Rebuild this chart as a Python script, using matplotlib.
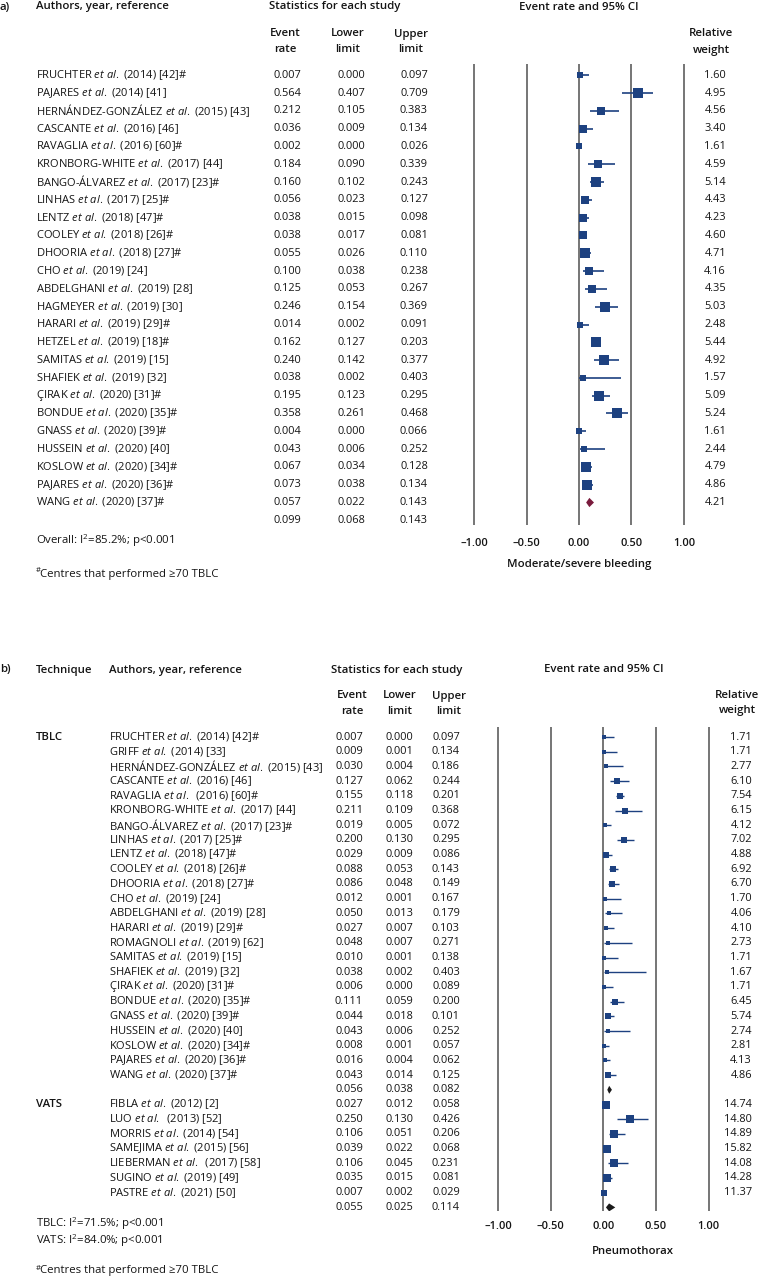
import matplotlib
matplotlib.use("Agg")
import matplotlib.pyplot as plt
import matplotlib.transforms as mtransforms
from matplotlib.patches import Polygon

FONT = 'Open Sans'
plt.rcParams['font.family'] = [FONT, 'DejaVu Sans']
plt.rcParams['mathtext.fontset'] = 'custom'
plt.rcParams['mathtext.rm'] = FONT
plt.rcParams['mathtext.it'] = FONT + ':italic'
plt.rcParams['mathtext.default'] = 'regular'

# ---- panel a: moderate/severe bleeding ----
authors_a = ["FRUCHTER", "PAJARES", "HERNÁNDEZ-GONZÁLEZ", "CASCANTE", "RAVAGLIA",
             "KRONBORG-WHITE", "BANGO-ÁLVAREZ", "LINHAS", "LENTZ", "COOLEY",
             "DHOORIA", "CHO", "ABDELGHANI", "HAGMEYER", "HARARI", "HETZEL",
             "SAMITAS", "SHAFIEK", "ÇIRAK", "BONDUE", "GNASS", "HUSSEIN",
             "KOSLOW", "PAJARES", "WANG"]
refs_a = ["(2014) [42]#", "(2014) [41]", "(2015) [43]", "(2016) [46]", "(2016) [60]#",
          "(2017) [44]", "(2017) [23]#", "(2017) [25]#", "(2018) [47]#", "(2018) [26]#",
          "(2018) [27]#", "(2019) [24]", "(2019) [28]", "(2019) [30]", "(2019) [29]#",
          "(2019) [18]#", "(2019) [15]", "(2019) [32]", "(2020) [31]#", "(2020) [35]#",
          "(2020) [39]#", "(2020) [40]", "(2020) [34]#", "(2020) [36]#", "(2020) [37]#"]
rate_a = [0.007, 0.564, 0.212, 0.036, 0.002, 0.184, 0.160, 0.056, 0.038, 0.038,
          0.055, 0.100, 0.125, 0.246, 0.014, 0.162, 0.240, 0.038, 0.195, 0.358,
          0.004, 0.043, 0.067, 0.073, 0.057]
lower_a = [0.000, 0.407, 0.105, 0.009, 0.000, 0.090, 0.102, 0.023, 0.015, 0.017,
           0.026, 0.038, 0.053, 0.154, 0.002, 0.127, 0.142, 0.002, 0.123, 0.261,
           0.000, 0.006, 0.034, 0.038, 0.022]
upper_a = [0.097, 0.709, 0.383, 0.134, 0.026, 0.339, 0.243, 0.127, 0.098, 0.081,
           0.110, 0.238, 0.267, 0.369, 0.091, 0.203, 0.377, 0.403, 0.295, 0.468,
           0.066, 0.252, 0.128, 0.134, 0.143]
weight_a = [1.60, 4.95, 4.56, 3.40, 1.61, 4.59, 5.14, 4.43, 4.23, 4.60, 4.71, 4.16,
            4.35, 5.03, 2.48, 5.44, 4.92, 1.57, 5.09, 5.24, 1.61, 2.44, 4.79, 4.86, 4.21]
overall_a = [0.099, 0.068, 0.143]

# ---- panel b: pneumothorax ----
authors_tblc = ["FRUCHTER", "GRIFF", "HERNÁNDEZ-GONZÁLEZ", "CASCANTE", "RAVAGLIA",
                "KRONBORG-WHITE", "BANGO-ÁLVAREZ", "LINHAS", "LENTZ", "COOLEY",
                "DHOORIA", "CHO", "ABDELGHANI", "HARARI", "ROMAGNOLI", "SAMITAS",
                "SHAFIEK", "ÇIRAK", "BONDUE", "GNASS", "HUSSEIN", "KOSLOW",
                "PAJARES", "WANG"]
refs_tblc = ["(2014) [42]#", "(2014) [33]", "(2015) [43]", "(2016) [46]", " (2016) [60]#",
             "(2017) [44]", "(2017) [23]#", "(2017) [25]#", "(2018) [47]#", "(2018) [26]#",
             "(2018) [27]#", "(2019) [24]", "(2019) [28]", "(2019) [29]#", "(2019) [62]",
             "(2019) [15]", "(2019) [32]", "(2020) [31]#", "(2020) [35]#", "(2020) [39]#",
             "(2020) [40]", "(2020) [34]#", "(2020) [36]#", "(2020) [37]#"]
rate_tblc = [0.007, 0.009, 0.030, 0.127, 0.155, 0.211, 0.019, 0.200, 0.029, 0.088,
             0.086, 0.012, 0.050, 0.027, 0.048, 0.010, 0.038, 0.006, 0.111, 0.044,
             0.043, 0.008, 0.016, 0.043]
lower_tblc = [0.000, 0.001, 0.004, 0.062, 0.118, 0.109, 0.005, 0.130, 0.009, 0.053,
              0.048, 0.001, 0.013, 0.007, 0.007, 0.001, 0.002, 0.000, 0.059, 0.018,
              0.006, 0.001, 0.004, 0.014]
upper_tblc = [0.097, 0.134, 0.186, 0.244, 0.201, 0.368, 0.072, 0.295, 0.086, 0.143,
              0.149, 0.167, 0.179, 0.103, 0.271, 0.138, 0.403, 0.089, 0.200, 0.101,
              0.252, 0.057, 0.062, 0.125]
weight_tblc = [1.71, 1.71, 2.77, 6.10, 7.54, 6.15, 4.12, 7.02, 4.88, 6.92, 6.70, 1.70,
               4.06, 4.10, 2.73, 1.71, 1.67, 1.71, 6.45, 5.74, 2.74, 2.81, 4.13, 4.86]
overall_tblc = [0.056, 0.038, 0.082]

authors_vats = ["FIBLA", "LUO", "MORRIS", "SAMEJIMA", "LIEBERMAN", "SUGINO", "PASTRE"]
refs_vats = ["(2012) [2]", " (2013) [52]", "(2014) [54]", "(2015) [56]", " (2017) [58]",
             "(2019) [49]", "(2021) [50]"]
rate_vats = [0.027, 0.250, 0.106, 0.039, 0.106, 0.035, 0.007]
lower_vats = [0.012, 0.130, 0.051, 0.022, 0.045, 0.015, 0.002]
upper_vats = [0.058, 0.426, 0.206, 0.068, 0.231, 0.081, 0.029]
weight_vats = [14.74, 14.80, 14.89, 15.82, 14.08, 14.28, 11.37]
overall_vats = [0.055, 0.025, 0.114]

ticks = [-1.0, -0.5, 0.0, 0.5, 1.0]
tick_labels = ["–1.00", "–0.50", "0.00", "0.50", "1.00"]

W, H = 759, 1280
TXT = '#141414'
SQ = '#1d4180'
FSA = 8.05  # study names
FS = 8.2    # notes
FSN = 7.9   # numbers
FSH = 8.2   # headers

fig = plt.figure(figsize=(W / 100, H / 100), dpi=100)


def fx(px):
    return px / W


def fy(py):
    return 1 - py / H


def ftext(px, py, s, **kw):
    kw.setdefault('fontsize', FS)
    kw.setdefault('color', TXT)
    kw.setdefault('va', 'center')
    fig.text(fx(px), fy(py), s, **kw)


def head(px, py, s, ha='left'):
    ftext(px, py, s, fontsize=FSH, fontweight='semibold', ha=ha)


def label(author, ref):
    return author + r" $\mathit{et\ al.}$ " + ref


def make_axes(zero_px, unit_px, top_px, bottom_px, row0_px, row_px):
    left = zero_px - 1.1 * unit_px
    ax = fig.add_axes([fx(left), fy(bottom_px), 2.2 * unit_px / W, (bottom_px - top_px) / H])
    ax.set_xlim(-1.1, 1.1)
    ax.set_ylim((bottom_px - row0_px) / row_px, (top_px - row0_px) / row_px)
    for sp in ax.spines.values():
        sp.set_visible(False)
    ax.set_yticks([])
    for t in ticks:
        ax.axvline(t, color='#6a6a6a', lw=1.3, zorder=1)
    ax.set_xticks(ticks)
    ax.set_xticklabels(tick_labels, fontsize=FSN, fontweight='semibold', color=TXT)
    return ax


def draw_study(ax, y, rate, lo, hi, side_px, lw):
    ax.plot([lo, hi], [y, y], color=SQ, lw=lw, solid_capstyle='butt', zorder=2)
    ax.plot([rate], [y], marker='s', ms=side_px * 0.72, color=SQ, mew=0, zorder=3)


def draw_diamond(ax, y, vals, half, color):
    rate, lo, hi = vals
    ax.add_patch(Polygon([[lo, y], [rate, y - half], [hi, y], [rate, y + half]],
                         closed=True, color=color, lw=0, zorder=3))


def num(ax, tr, px, y, v, fmt="{:.3f}"):
    ax.text(fx(px), y, fmt.format(v), transform=tr, fontsize=FSN, color=TXT,
            va='center', ha='right')


def name(ax, tr, px, y, s):
    ax.text(fx(px), y, s, transform=tr, fontsize=FSA, color=TXT, va='center')


# ================= panel a =================
ax_a = make_axes(579, 104.85, 64, 525, 75.3, 17.8)
ax_a.tick_params(axis='x', length=0, pad=9)
ta = mtransforms.blended_transform_factory(fig.transFigure, ax_a.transData)

head(0, 7, "a)")
head(36, 7, "Authors, year, reference")
head(269, 7, "Statistics for each study")
head(579, 7, "Event rate and 95% CI", ha='center')
for cx, l1, l2 in [(285, "Event", "rate"), (348, "Lower", "limit"), (411, "Upper", "limit"),
                   (711, "Relative", "weight")]:
    head(cx, 34, l1, ha='center')
    head(cx, 50, l2, ha='center')

n_a = len(authors_a)
for i in range(n_a):
    name(ax_a, ta, 36, i, label(authors_a[i], refs_a[i]))
    num(ax_a, ta, 301, i, rate_a[i])
    num(ax_a, ta, 365, i, lower_a[i])
    num(ax_a, ta, 428, i, upper_a[i])
    num(ax_a, ta, 726, i, weight_a[i], "{:.2f}")
    if i < n_a - 1:
        draw_study(ax_a, i, rate_a[i], lower_a[i], upper_a[i], 3 + 1.28 * weight_a[i], 1.2)
for xr, v in zip([301, 365, 428], overall_a):
    num(ax_a, ta, xr, n_a, v)
draw_diamond(ax_a, n_a - 1, overall_a, 0.26, '#7a1b3d')

ftext(36, 541, r"Overall: I$^{2}$=85.2%; p<0.001")
ftext(36, 571, "#", fontsize=5.5)
ftext(40, 574, "Centres that performed ≥70 TBLC")
head(579, 564, "Moderate/severe bleeding", ha='center')

# ================= panel b =================
ax_b = make_axes(603.3, 105.2, 726.7, 1210.7, 737, 14.7)
ax_b.tick_params(axis='x', length=0, pad=7.5)
tb = mtransforms.blended_transform_factory(fig.transFigure, ax_b.transData)

head(0, 670, "b)")
head(36, 670, "Technique")
head(109, 670, "Authors, year, reference")
head(331, 670, "Statistics for each study")
head(604, 670, "Event rate and 95% CI", ha='center')
for cx, l1, l2 in [(352, "Event", "rate"), (400, "Lower", "limit"), (449, "Upper", "limit"),
                   (737, "Relative", "weight")]:
    head(cx, 696, l1, ha='center')
    head(cx, 711, l2, ha='center')

groups = [("TBLC", authors_tblc, refs_tblc, rate_tblc, lower_tblc, upper_tblc, weight_tblc,
           overall_tblc),
          ("VATS", authors_vats, refs_vats, rate_vats, lower_vats, upper_vats, weight_vats,
           overall_vats)]
row = 0
for gname, auth, refs, rate, lo, hi, wt, overall in groups:
    ax_b.text(fx(36), row, gname, transform=tb, fontsize=FSH, color=TXT, va='center',
              fontweight='semibold')
    for i in range(len(auth)):
        y = row + i
        name(ax_b, tb, 109, y, label(auth[i], refs[i]))
        num(ax_b, tb, 363, y, rate[i])
        num(ax_b, tb, 413, y, lo[i])
        num(ax_b, tb, 460, y, hi[i])
        num(ax_b, tb, 752, y, wt[i], "{:.2f}")
        draw_study(ax_b, y, rate[i], lo[i], hi[i], 3.9 + 0.23 * wt[i], 1.0)
    y = row + len(auth)
    for xr, v in zip([363, 413, 460], overall):
        num(ax_b, tb, xr, y, v)
    draw_diamond(ax_b, y, overall, 0.27, '#1a1a1a')
    row = y + 1

ftext(36, 1224, r"TBLC: I$^{2}$=71.5%; p<0.001")
ftext(36, 1241, r"VATS: I$^{2}$=84.0%; p<0.001")
ftext(36, 1268, "#", fontsize=5.5)
ftext(40, 1271, "Centres that performed ≥70 TBLC")
head(633, 1252, "Pneumothorax", ha='center')

fig.savefig("out.png", dpi=100, facecolor='white')
